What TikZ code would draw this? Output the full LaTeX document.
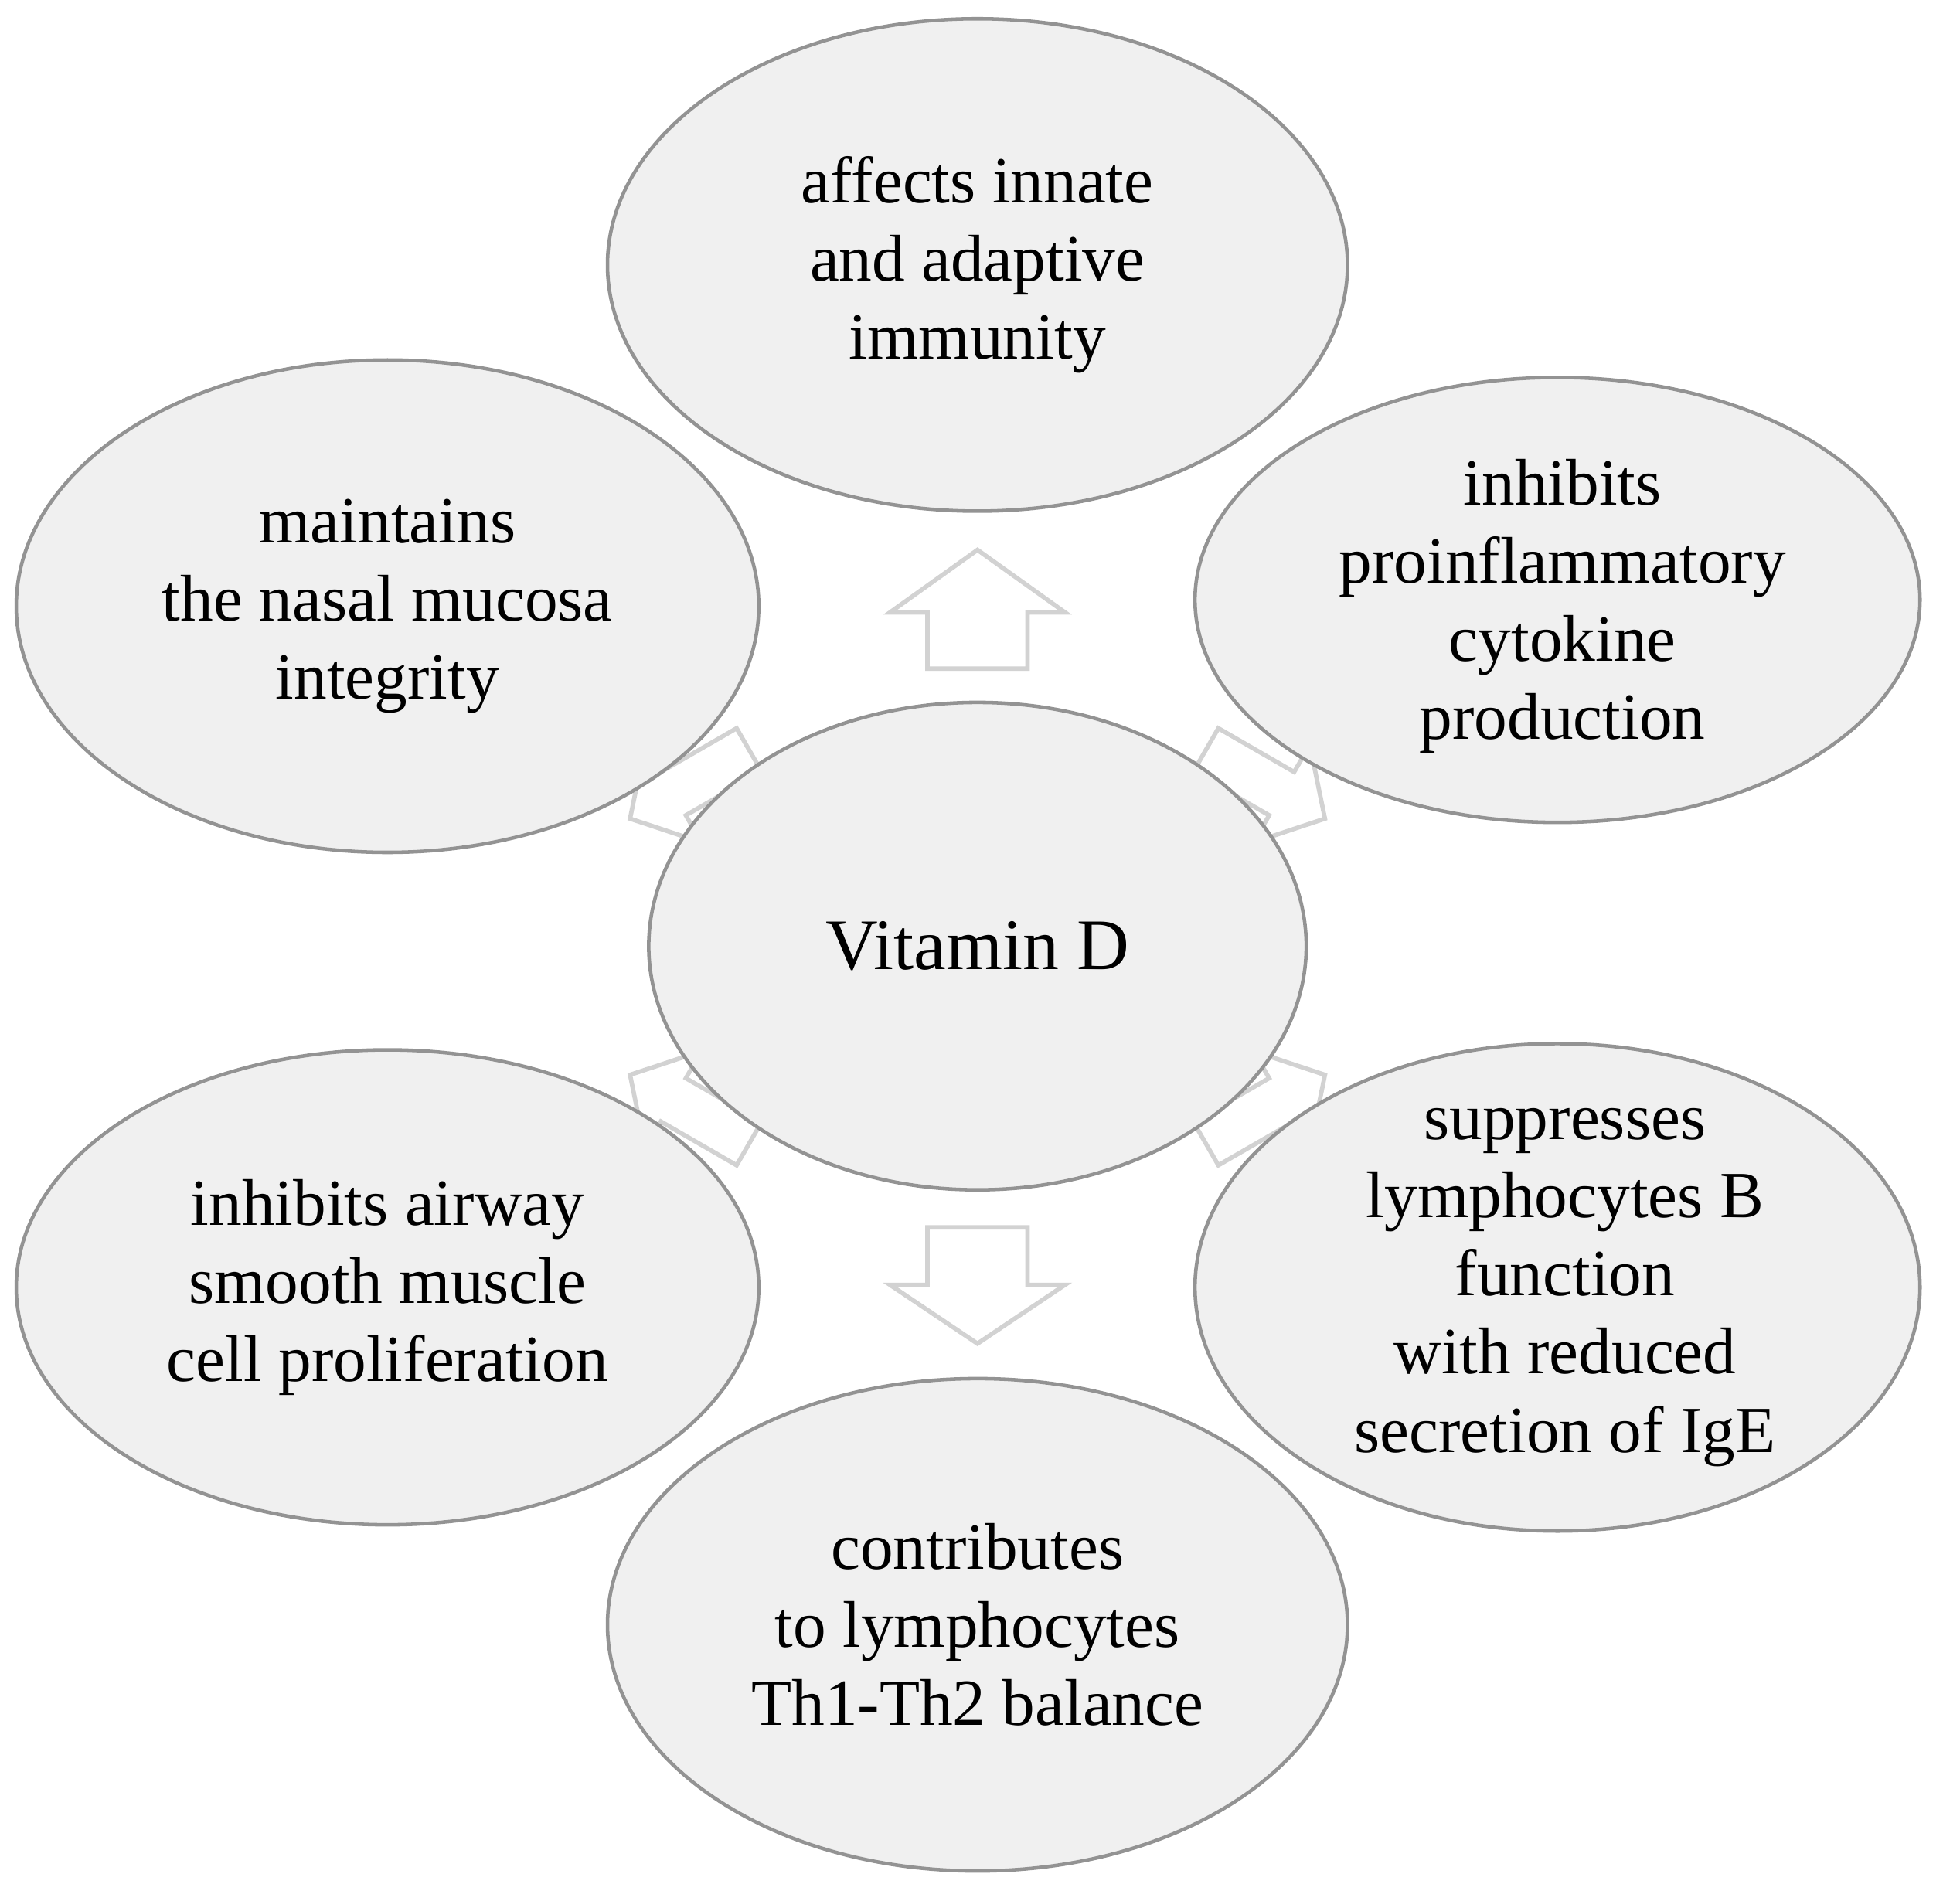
\documentclass[tikz,border=0pt]{standalone}
\usepackage{fontspec}
\setmainfont{Liberation Serif}
\begin{document}
\begin{tikzpicture}[x=0.01cm,y=-0.01cm,
  ell/.style={draw=gray!85,line width=0.8pt,fill=gray!12},
  txt/.style={align=center,font=\fontsize{15}{17.8}\selectfont},
  barr/.style={draw=gray!35,line width=1pt,fill=white}]
\useasboundingbox (0,0) rectangle (1568,1513);
% diagonal arrows (behind)
\foreach \a/\px/\py in {-150/556/625,-30/1008/625,150/556/890,30/1008/890}{
  \begin{scope}[shift={(\px,\py)},rotate=\a]
  \draw[barr] (-50,-20) -- (20,-20) -- (20,-45) -- (60,0) -- (20,45) -- (20,20) -- (-50,20) -- cycle;
  \end{scope}}
\draw[ell] (782,212) ellipse [x radius=296,y radius=197];
\draw[ell] (310,485) ellipse [x radius=297,y radius=197];
\draw[ell] (1246,480) ellipse [x radius=290,y radius=178];
\draw[ell] (310,1030) ellipse [x radius=297,y radius=190];
\draw[ell] (1246,1030) ellipse [x radius=290,y radius=195];
\draw[ell] (782,1300) ellipse [x radius=296,y radius=197];
\draw[ell] (782,757) ellipse [x radius=263,y radius=195];
% up / down arrows
\draw[barr] (782,440) -- (852,490) -- (822,490) -- (822,535) -- (742,535) -- (742,490) -- (712,490) -- cycle;
\draw[barr] (782,1075) -- (852,1028) -- (822,1028) -- (822,982) -- (742,982) -- (742,1028) -- (712,1028) -- cycle;
\node[txt] (t) at (782,212) {affects innate\\and adaptive\\immunity};
\node[txt] (tl) at (310,485) {maintains\\the nasal mucosa\\integrity};
\node[txt] (tr) at (1250,485) {inhibits\\proinflammatory\\cytokine\\production};
\node[txt] (c) at (782,757) {\fontsize{16.5}{19}\selectfont Vitamin D};
\node[txt] (bl) at (310,1030) {inhibits airway\\smooth muscle\\cell proliferation};
\node[txt] (br) at (1252,1030) {suppresses\\lymphocytes B\\function\\with reduced\\secretion of IgE};
\node[txt] (b) at (782,1300) {contributes\\to lymphocytes\\Th1-Th2 balance};
\end{tikzpicture}
\end{document}
